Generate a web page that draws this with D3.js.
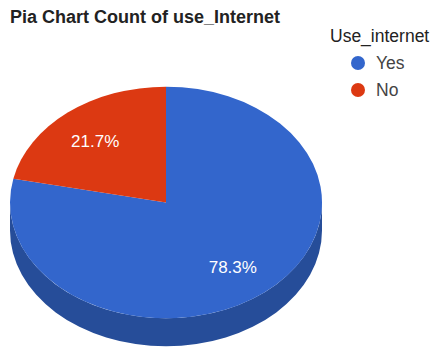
<!DOCTYPE html>
<html>
<head>
<meta charset="utf-8">
<script src="https://cdn.jsdelivr.net/npm/d3@7"></script>
<style>
  html, body { margin: 0; padding: 0; background: #fff; }
  svg { display: block; font-family: Arial, "Liberation Sans", sans-serif; }
</style>
</head>
<body>
<svg id="chart" width="432" height="349"></svg>
<script>
const title = "Pia Chart Count of use_Internet";
const legendTitle = "Use_internet";
const categories = ["Yes", "No"];
const values = [78.3, 21.7];
const colors = ["#3366CC", "#DC3912"];
const sideColors = ["#264D99", "#A52B0E"];

const svg = d3.select("#chart");
const cx = 166, cy = 202.5, rx = 156, ry = 115.8, depth = 28;

const pie = d3.pie().sort(null).value(d => d.value);
const data = categories.map((c, i) => ({ name: c, value: values[i], i }));
const arcs = pie(data);
const total = d3.sum(values);

function pt(a, dy) {
  return [cx + rx * Math.sin(a), cy - ry * Math.cos(a) + (dy || 0)];
}

// side walls (front half: angles between PI/2 and 3PI/2)
const sideG = svg.append("g");
arcs.forEach(a => {
  const s = Math.max(a.startAngle, Math.PI / 2);
  const e = Math.min(a.endAngle, 3 * Math.PI / 2);
  if (e <= s) return;
  const p0 = pt(s), p1 = pt(e), p2 = pt(e, depth), p3 = pt(s, depth);
  const large = (e - s) > Math.PI ? 1 : 0;
  const d = `M${p0}A${rx},${ry} 0 ${large} 1 ${p1}L${p2}A${rx},${ry} 0 ${large} 0 ${p3}Z`;
  sideG.append("path").attr("d", d).attr("fill", sideColors[a.data.i]);
});

// top face
const arcGen = d3.arc().innerRadius(0).outerRadius(rx);
const topG = svg.append("g")
  .attr("transform", `translate(${cx},${cy}) scale(1,${ry / rx})`);
topG.selectAll("path").data(arcs).join("path")
  .attr("d", arcGen)
  .attr("fill", d => colors[d.data.i]);

// labels
const k = 0.7;
svg.append("g").selectAll("text").data(arcs).join("text")
  .attr("x", d => cx + k * rx * Math.sin((d.startAngle + d.endAngle) / 2) - 2)
  .attr("y", d => cy - k * ry * Math.cos((d.startAngle + d.endAngle) / 2) + 1)
  .attr("dy", "0.36em")
  .attr("text-anchor", "middle")
  .attr("fill", "#fff")
  .attr("font-size", 17)
  .text(d => (d.data.value / total * 100).toFixed(1) + "%");

// title
svg.append("text")
  .attr("x", 10).attr("y", 23)
  .attr("font-size", 18).attr("font-weight", "bold").attr("fill", "#222")
  .text(title);

// legend
svg.append("text")
  .attr("x", 330).attr("y", 42)
  .attr("font-size", 17.5).attr("fill", "#222")
  .text(legendTitle);

const lg = svg.append("g").selectAll("g").data(categories).join("g")
  .attr("transform", (d, i) => `translate(358,${63 + i * 27})`);
lg.append("circle").attr("r", 7).attr("fill", (d, i) => colors[i]);
lg.append("text").attr("x", 18).attr("dy", "0.36em")
  .attr("font-size", 17.5).attr("fill", "#444").text(d => d);
</script>
</body>
</html>
